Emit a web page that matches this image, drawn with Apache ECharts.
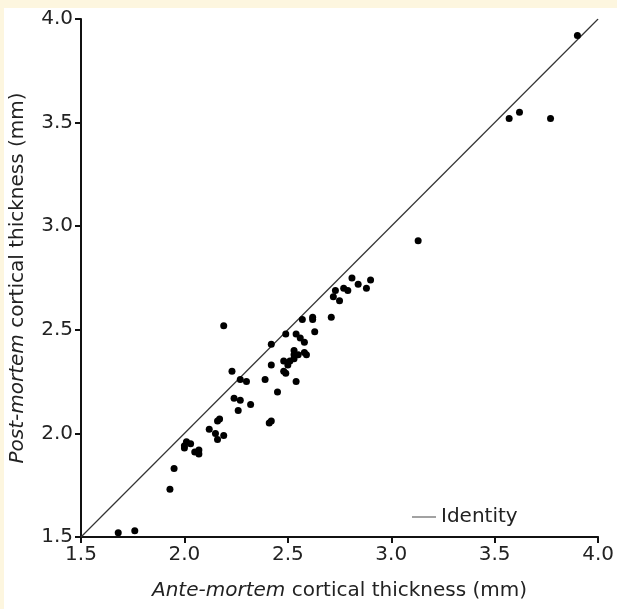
<!DOCTYPE html>
<html>
<head>
<meta charset="UTF-8">
<title>Ante-mortem vs post-mortem cortical thickness</title>
<script src="https://cdn.jsdelivr.net/npm/echarts@6/dist/echarts.min.js"></script>
<style>
  html, body { margin: 0; padding: 0; background: #fdf6df; }
  #main { width: 617px; height: 609px; }
</style>
</head>
<body>
<div id="main"></div>
<script type="text/javascript">
// ante-mortem thickness (x), mm
var anteMortem = [
  3.90, 3.57, 3.62, 3.77, 3.13, 2.81, 2.90, 2.84, 2.77, 2.79, 2.88,
  2.73, 2.72, 2.75, 2.71, 2.57, 2.62, 2.62, 2.63, 2.19, 2.49, 2.54,
  2.56, 2.58, 2.42, 2.53, 2.53, 2.58, 2.59, 2.55, 2.53, 2.51, 2.42,
  2.48, 2.50, 2.48, 2.49, 2.23, 2.27, 2.30, 2.39, 2.54, 2.45, 2.24,
  2.27, 2.32, 2.26, 2.16, 2.17, 2.42, 2.41, 2.12, 2.15, 2.19, 2.16,
  2.01, 2.03, 2.00, 2.00, 2.05, 2.07, 2.07, 1.95, 1.93, 1.68, 1.76
];
// post-mortem thickness (y), mm
var postMortem = [
  3.92, 3.52, 3.55, 3.52, 2.93, 2.75, 2.74, 2.72, 2.70, 2.69, 2.70,
  2.69, 2.66, 2.64, 2.56, 2.55, 2.56, 2.55, 2.49, 2.52, 2.48, 2.48,
  2.46, 2.44, 2.43, 2.40, 2.38, 2.39, 2.38, 2.38, 2.36, 2.35, 2.33,
  2.35, 2.33, 2.30, 2.29, 2.30, 2.26, 2.25, 2.26, 2.25, 2.20, 2.17,
  2.16, 2.14, 2.11, 2.06, 2.07, 2.06, 2.05, 2.02, 2.00, 1.99, 1.97,
  1.96, 1.95, 1.94, 1.93, 1.91, 1.92, 1.90, 1.83, 1.73, 1.52, 1.53
];
// identity line end points
var identity = [1.5, 4.0];

var points = [];
for (var i = 0; i < anteMortem.length; i++) {
  points.push([anteMortem[i], postMortem[i]]);
}

var font = 'DejaVu Sans';
var myChart = echarts.init(document.getElementById('main'));

var option = {
  backgroundColor: '#fdf6df',
  animation: false,
  graphic: [{
    type: 'rect',
    z: -10,
    shape: { x: 4, y: 8, width: 613, height: 601 },
    style: { fill: '#ffffff' }
  }],
  grid: {
    left: 80.5,
    right: 18,
    top: 19,
    bottom: 72
  },
  legend: {
    left: 407,
    top: 502,
    itemWidth: 24,
    itemHeight: 12,
    itemGap: 10,
    textStyle: { fontFamily: font, fontSize: 20, color: '#222' },
    data: [{ name: 'Identity', icon: 'path://M0,6 L24,6 L24,7 L0,7 Z', itemStyle: { color: '#444' } }]
  },
  xAxis: {
    type: 'value',
    min: 1.5,
    max: 4.0,
    interval: 0.5,
    name: '{i|Ante-mortem} cortical thickness (mm)',
    nameLocation: 'middle',
    nameGap: 44,
    nameTextStyle: {
      fontFamily: font, fontSize: 20, color: '#222',
      rich: { i: { fontFamily: font, fontSize: 20, fontStyle: 'italic', color: '#222' } }
    },
    axisLine: { lineStyle: { color: '#111', width: 2 } },
    axisTick: { show: true, length: 6, lineStyle: { color: '#111', width: 2 } },
    axisLabel: {
      margin: 8, fontFamily: font, fontSize: 20, color: '#222',
      formatter: function (v) { return v.toFixed(1); }
    },
    splitLine: { show: false }
  },
  yAxis: {
    type: 'value',
    min: 1.5,
    max: 4.0,
    interval: 0.5,
    name: '{i|Post-mortem} cortical thickness (mm)',
    nameLocation: 'middle',
    nameGap: 53,
    nameTextStyle: {
      fontFamily: font, fontSize: 20, color: '#222',
      rich: { i: { fontFamily: font, fontSize: 20, fontStyle: 'italic', color: '#222' } }
    },
    axisLine: { show: true, lineStyle: { color: '#111', width: 2 } },
    axisTick: { show: true, length: 6, lineStyle: { color: '#111', width: 2 } },
    axisLabel: {
      margin: 8, fontFamily: font, fontSize: 20, color: '#222',
      formatter: function (v) { return v.toFixed(1); }
    },
    splitLine: { show: false }
  },
  series: [{
    name: 'Identity',
    type: 'line',
    data: [[identity[0], identity[0]], [identity[1], identity[1]]],
    symbol: 'none',
    color: '#333',
    lineStyle: { color: '#333', width: 1.2 },
    z: 2
  }, {
    name: 'Data',
    type: 'scatter',
    data: points,
    symbol: 'circle',
    symbolSize: 7,
    itemStyle: { color: '#000', opacity: 1 },
    z: 3
  }]
};

myChart.setOption(option);
</script>
</body>
</html>
